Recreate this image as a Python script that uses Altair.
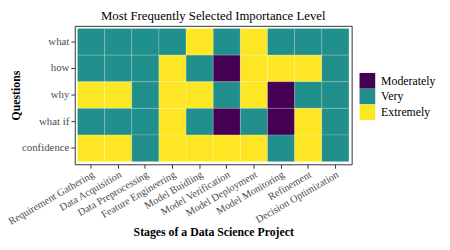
import altair as alt
import pandas as pd

questions = ["what", "how", "why", "what if", "confidence"]
stages = ["Requirement Gathering", "Data Acquisition", "Data Preprocessing",
          "Feature Engineering", "Model Buidling", "Model Verification",
          "Model Deployment", "Model Monitoring", "Refinement",
          "Decision Optimization"]
levels = ["Moderately", "Very", "Extremely"]
level_colors = ["#440154", "#21908C", "#FDE725"]

# M = Moderately, V = Very, E = Extremely (one row per question)
grid = {
    "what":       ["V", "V", "V", "V", "E", "V", "E", "V", "V", "V"],
    "how":        ["V", "V", "V", "E", "V", "M", "E", "E", "E", "V"],
    "why":        ["E", "E", "V", "E", "E", "V", "E", "M", "V", "V"],
    "what if":    ["V", "V", "V", "E", "V", "M", "V", "M", "E", "V"],
    "confidence": ["E", "E", "V", "E", "E", "E", "E", "V", "E", "V"],
}
code = {"M": "Moderately", "V": "Very", "E": "Extremely"}

rows = []
for q in questions:
    for s, c in zip(stages, grid[q]):
        rows.append({"question": q, "stage": s, "level": code[c]})
df = pd.DataFrame(rows)

FONT = "Liberation Serif"

chart = alt.Chart(df).mark_rect(
    stroke="white", strokeWidth=0.5, strokeOpacity=0.35
).encode(
    x=alt.X("stage:N", sort=stages,
            scale=alt.Scale(paddingInner=0, paddingOuter=0.1),
            axis=alt.Axis(title="Stages of a Data Science Project",
                          labelAngle=-30, labelAlign="right", labelBaseline="top",
                          labelFont=FONT, labelFontSize=10.5, labelColor="#4D4D4D",
                          labelPadding=1,
                          tickColor="#333333", tickSize=4, domain=False, grid=False,
                          titleFont=FONT, titleFontSize=12, titleFontWeight="bold",
                          titleColor="black", titleY=73, titleBaseline="alphabetic")),
    y=alt.Y("question:N", sort=questions,
            scale=alt.Scale(paddingInner=0, paddingOuter=0.1),
            axis=alt.Axis(title="Questions",
                          labelFont=FONT, labelFontSize=11, labelColor="#4D4D4D",
                          labelPadding=2,
                          tickColor="#333333", tickSize=4, domain=False, grid=False,
                          titleFont=FONT, titleFontSize=12, titleFontWeight="bold",
                          titleColor="black", titleX=-60, titleBaseline="middle")),
    color=alt.Color("level:N",
                    scale=alt.Scale(domain=levels, range=level_colors),
                    legend=alt.Legend(title=None, orient="none", legendX=290, legendY=48,
                                      symbolType="square", symbolSize=256,
                                      symbolStrokeWidth=0, symbolOpacity=1,
                                      rowPadding=0, padding=0, labelOffset=6,
                                      labelFont=FONT, labelFontSize=12,
                                      labelColor="black")),
).properties(
    width=282, height=141,
    title=alt.TitleParams("Most Frequently Selected Importance Level",
                          font=FONT, fontSize=13, fontWeight="normal",
                          color="black", anchor="middle", offset=4.5,
                          baseline="alphabetic", frame="group", dy=12),
    autosize=alt.AutoSizeParams(type="none"),
    padding={"left": 68, "top": 16, "right": 92, "bottom": 77},
).configure_view(stroke="#333333", strokeWidth=1)

chart.save("out.html", embed_options={"renderer": "svg", "actions": False})
